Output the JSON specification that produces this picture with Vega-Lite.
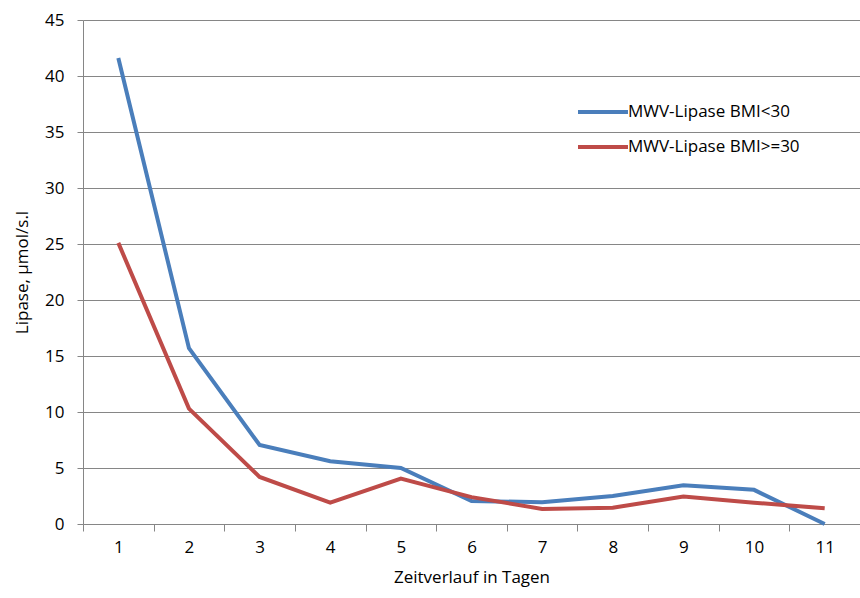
{
  "$schema": "https://vega.github.io/schema/vega-lite/v6.json",
  "width": 777,
  "height": 504,
  "autosize": {"type": "none"},
  "padding": {"left": 83, "top": 20, "right": 0, "bottom": 74},
  "background": "white",
  "config": {
    "view": {"stroke": null},
    "font": "Open Sans",
    "axis": {"labelFont": "Open Sans", "titleFont": "Open Sans", "labelFontSize": 17, "titleFontSize": 17, "titleFontWeight": "normal", "labelColor": "#000", "titleColor": "#000"}
  },
  "data": {
    "values": [
      {"day": 1, "series": "MWV-Lipase BMI<30", "value": 41.6},
      {"day": 2, "series": "MWV-Lipase BMI<30", "value": 15.7},
      {"day": 3, "series": "MWV-Lipase BMI<30", "value": 7.05},
      {"day": 4, "series": "MWV-Lipase BMI<30", "value": 5.6},
      {"day": 5, "series": "MWV-Lipase BMI<30", "value": 5.0},
      {"day": 6, "series": "MWV-Lipase BMI<30", "value": 2.05},
      {"day": 7, "series": "MWV-Lipase BMI<30", "value": 1.95},
      {"day": 8, "series": "MWV-Lipase BMI<30", "value": 2.5},
      {"day": 9, "series": "MWV-Lipase BMI<30", "value": 3.45},
      {"day": 10, "series": "MWV-Lipase BMI<30", "value": 3.05},
      {"day": 11, "series": "MWV-Lipase BMI<30", "value": 0.0},
      {"day": 1, "series": "MWV-Lipase BMI>=30", "value": 25.1},
      {"day": 2, "series": "MWV-Lipase BMI>=30", "value": 10.3},
      {"day": 3, "series": "MWV-Lipase BMI>=30", "value": 4.2},
      {"day": 4, "series": "MWV-Lipase BMI>=30", "value": 1.9},
      {"day": 5, "series": "MWV-Lipase BMI>=30", "value": 4.05},
      {"day": 6, "series": "MWV-Lipase BMI>=30", "value": 2.4},
      {"day": 7, "series": "MWV-Lipase BMI>=30", "value": 1.35},
      {"day": 8, "series": "MWV-Lipase BMI>=30", "value": 1.45},
      {"day": 9, "series": "MWV-Lipase BMI>=30", "value": 2.45},
      {"day": 10, "series": "MWV-Lipase BMI>=30", "value": 1.9},
      {"day": 11, "series": "MWV-Lipase BMI>=30", "value": 1.4}
    ]
  },
  "mark": {"type": "line", "strokeWidth": 4, "strokeJoin": "miter"},
  "encoding": {
    "x": {
      "field": "day",
      "type": "quantitative",
      "scale": {"domain": [0.5, 11.5], "nice": false, "zero": false},
      "axis": {
        "title": "Zeitverlauf in Tagen",
        "values": [0.5, 1, 1.5, 2, 2.5, 3, 3.5, 4, 4.5, 5, 5.5, 6, 6.5, 7, 7.5, 8, 8.5, 9, 9.5, 10, 10.5, 11, 11.5],
        "labelExpr": "datum.value % 1 === 0 ? datum.value : ''",
        "grid": false,
        "domainColor": "#868686",
        "domainWidth": 1,
        "tickColor": "#868686",
        "tickSize": 7,
        "tickOpacity": {"condition": {"test": "datum.value % 1 === 0", "value": 0}, "value": 1},
        "labelPadding": 8,
        "labelFlush": false,
        "titlePadding": 14
      }
    },
    "y": {
      "field": "value",
      "type": "quantitative",
      "scale": {"domain": [0, 45], "nice": false},
      "axis": {
        "title": "Lipase, µmol/s.l",
        "values": [0, 5, 10, 15, 20, 25, 30, 35, 40, 45],
        "grid": true,
        "gridColor": "#868686",
        "gridWidth": 1,
        "domainColor": "#868686",
        "tickColor": "#868686",
        "tickSize": 6,
        "labelPadding": 13,
        "titlePadding": 13
      }
    },
    "color": {
      "field": "series",
      "type": "nominal",
      "scale": {"domain": ["MWV-Lipase BMI<30", "MWV-Lipase BMI>=30"], "range": ["#4A7EBB", "#BE4B48"]},
      "legend": {
        "title": null,
        "orient": "none",
        "legendX": 493,
        "legendY": 65,
        "symbolType": "stroke",
        "symbolSize": 2500,
        "symbolStrokeWidth": 4,
        "labelFontSize": 17,
        "labelFont": "Open Sans",
        "labelColor": "#000",
        "labelLimit": 0,
        "rowPadding": -12,
        "labelOffset": -2
      }
    }
  }
}
